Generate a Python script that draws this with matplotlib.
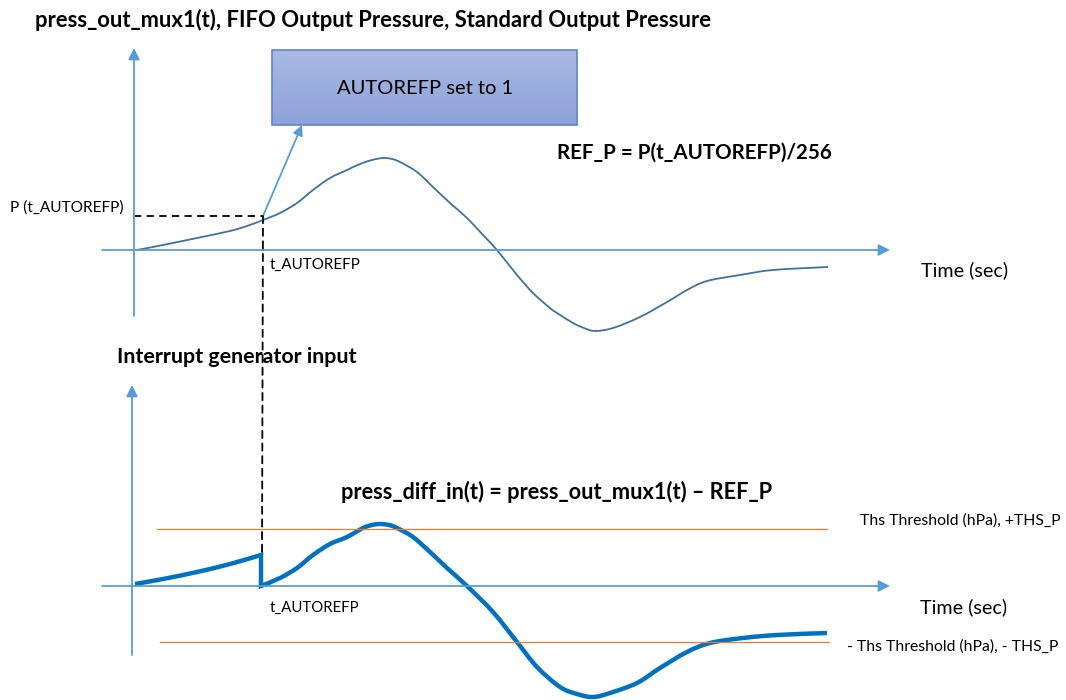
import matplotlib.pyplot as plt
import numpy as np
from matplotlib.colors import LinearSegmentedColormap
from matplotlib.patches import Rectangle, ConnectionPatch, PathPatch
from matplotlib.path import Path

plt.rcParams['font.family'] = ['Lato', 'DejaVu Sans']

# press_out_mux1(t): time / pressure in drawing units from the axes origin
top_t = [3, 29, 63, 96, 113, 129, 146, 163, 179, 196, 213, 226, 238, 249,
         258, 266, 283, 299, 316, 333, 349, 363, 383, 399, 416, 423, 439,
         450, 461, 479, 506, 533, 553, 573, 606, 639, 694]
top_p = [0, 5, 12, 19, 24, 30, 37, 47, 60, 72, 80, 86, 90, 92,
         91, 88, 78, 63, 47, 32, 15, 0, -25, -43, -58, -63, -73,
         -78, -81, -78, -67, -52, -40, -31, -25, -20, -17]

# press_diff_in(t) = press_out_mux1(t) - REF_P  (reset at t_AUTOREFP)
bot_t_before = [3, 31, 65, 98, 129]
bot_p_before = [2, 7, 14, 22, 31]
bot_t_after = [129, 148, 165, 181, 198, 215, 231, 240, 248, 257, 265, 281,
               298, 315, 335, 361, 385, 405, 428, 445, 461, 478, 505, 528,
               555, 578, 611, 645, 695]
bot_p_after = [0, 8, 18, 31, 42, 49, 58, 61, 62, 61, 58, 49,
               34, 18, 0, -26, -56, -81, -101, -108, -111, -107, -97, -82,
               -66, -57, -52, -49, -47]

t_autorefp = 129
p_autorefp = 34
ths_p = 57
ths_n = -56
ths_span = [25, 695]

axis_col = '#5B9BD5'


def smooth(x, y):
    # bezier segments through the given points (catmull-rom tangents)
    pts = np.column_stack([x, y]).astype(float)
    ext = np.vstack([pts[0], pts, pts[-1]])
    verts = [pts[0]]
    for i in range(len(pts) - 1):
        p0, p1, p2, p3 = ext[i], ext[i + 1], ext[i + 2], ext[i + 3]
        verts += [p1 + (p2 - p0) / 6, p2 - (p3 - p1) / 6, p2]
    return verts


fig = plt.figure(figsize=(10.66, 7), dpi=100)
canvas = fig.add_axes([0, 0, 1, 1])
ax_top = fig.add_axes([0, 0, 1, 1])
ax_bot = fig.add_axes([0, 0, 1, 1])
for a in (canvas, ax_top, ax_bot):
    a.axis('off')


def axis_arrow(ax, start, tip):
    ax.annotate('', xy=tip, xytext=start,
                arrowprops=dict(arrowstyle='-|>', color=axis_col, lw=1.3,
                                mutation_scale=17, shrinkA=0, shrinkB=0))


# top panel
axis_arrow(ax_top, (0, -66), (0, 202))
axis_arrow(ax_top, (-32, 0), (756, 0))
v = smooth(top_t, top_p)
codes = [Path.MOVETO] + [Path.CURVE4] * (len(v) - 1)
ax_top.add_patch(PathPatch(Path(v, codes), fill=False, ec='#41719C', lw=1.3))
ax_top.plot([0, t_autorefp], [p_autorefp, p_autorefp], color='black',
            lw=1.3, dashes=(4, 3))
ax_top.annotate('', xy=(168, 125), xytext=(t_autorefp, p_autorefp),
                arrowprops=dict(arrowstyle='-|>', color=axis_col, lw=1.3,
                                mutation_scale=15, shrinkA=0, shrinkB=0))
ax_top.set_xlim(-134, 932)
ax_top.set_ylim(-450, 250)

# bottom panel
axis_arrow(ax_bot, (0, -69), (0, 201))
axis_arrow(ax_bot, (-30, 0), (758, 0))
ax_bot.plot(ths_span, [ths_p, ths_p], color='#ED7D31', lw=0.9)
ax_bot.plot([ths_span[0] + 3, ths_span[1] + 2], [ths_n, ths_n],
            color='#ED7D31', lw=0.9)
va = smooth(bot_t_before, bot_p_before)
vb = smooth(bot_t_after, bot_p_after)
codes = ([Path.MOVETO] + [Path.CURVE4] * (len(va) - 1) + [Path.LINETO]
         + [Path.CURVE4] * (len(vb) - 1))
ax_bot.add_patch(PathPatch(Path(va + vb, codes), fill=False, ec='#0070C0',
                           lw=3.2, capstyle='butt', joinstyle='miter'))
ax_bot.set_xlim(-132, 934)
ax_bot.set_ylim(-114, 586)

con = ConnectionPatch(xyA=(t_autorefp, p_autorefp), coordsA=ax_top.transData,
                      xyB=(t_autorefp + 1, 31), coordsB=ax_bot.transData,
                      color='black', lw=1.3, linestyle=(0, (4, 3)))
fig.add_artist(con)

# callout box
grad = np.linspace(0, 1, 64).reshape(-1, 1)
cmap = LinearSegmentedColormap.from_list('box', ['#AAB9E2', '#8CA2DA'])
canvas.imshow(grad, cmap=cmap, extent=(272, 577, 125, 50), aspect='auto',
              zorder=1)
canvas.add_patch(Rectangle((272, 50), 305, 75, fill=False,
                           ec='#6283CC', lw=1.2, zorder=2))
canvas.set_xlim(0, 1066)
canvas.set_ylim(700, 0)

renderer = fig.canvas.get_renderer()


def put(x, y, s, width, **kw):
    t = canvas.text(x, y, s, va='center', ha='left', color='black',
                    fontsize=12, **kw)
    w = t.get_window_extent(renderer=renderer).width
    t.set_fontsize(12 * width / w)
    return t


put(35, 20, 'press_out_mux1(t), FIFO Output Pressure, Standard Output Pressure',
    670, fontweight='bold')
put(337, 89, 'AUTOREFP set to 1', 176, zorder=3)
put(557, 153, 'REF_P = P(t_AUTOREFP)/256', 274, fontweight='bold')
put(10, 208, 'P (t_AUTOREFP)', 113)
put(270, 265, 't_AUTOREFP', 90)
put(921, 270, 'Time (sec)', 87)
put(117, 357, 'Interrupt generator input', 238, fontweight='bold')
put(341, 492, 'press_diff_in(t) = press_out_mux1(t) \u2013 REF_P', 429,
    fontweight='bold')
put(860, 521, 'Ths Threshold (hPa), +THS_P', 200)
put(270, 608, 't_AUTOREFP', 89)
put(920, 607, 'Time (sec)', 87)
put(847, 647, '- Ths Threshold (hPa), - THS_P', 209)

fig.savefig('out.png', dpi=100)
